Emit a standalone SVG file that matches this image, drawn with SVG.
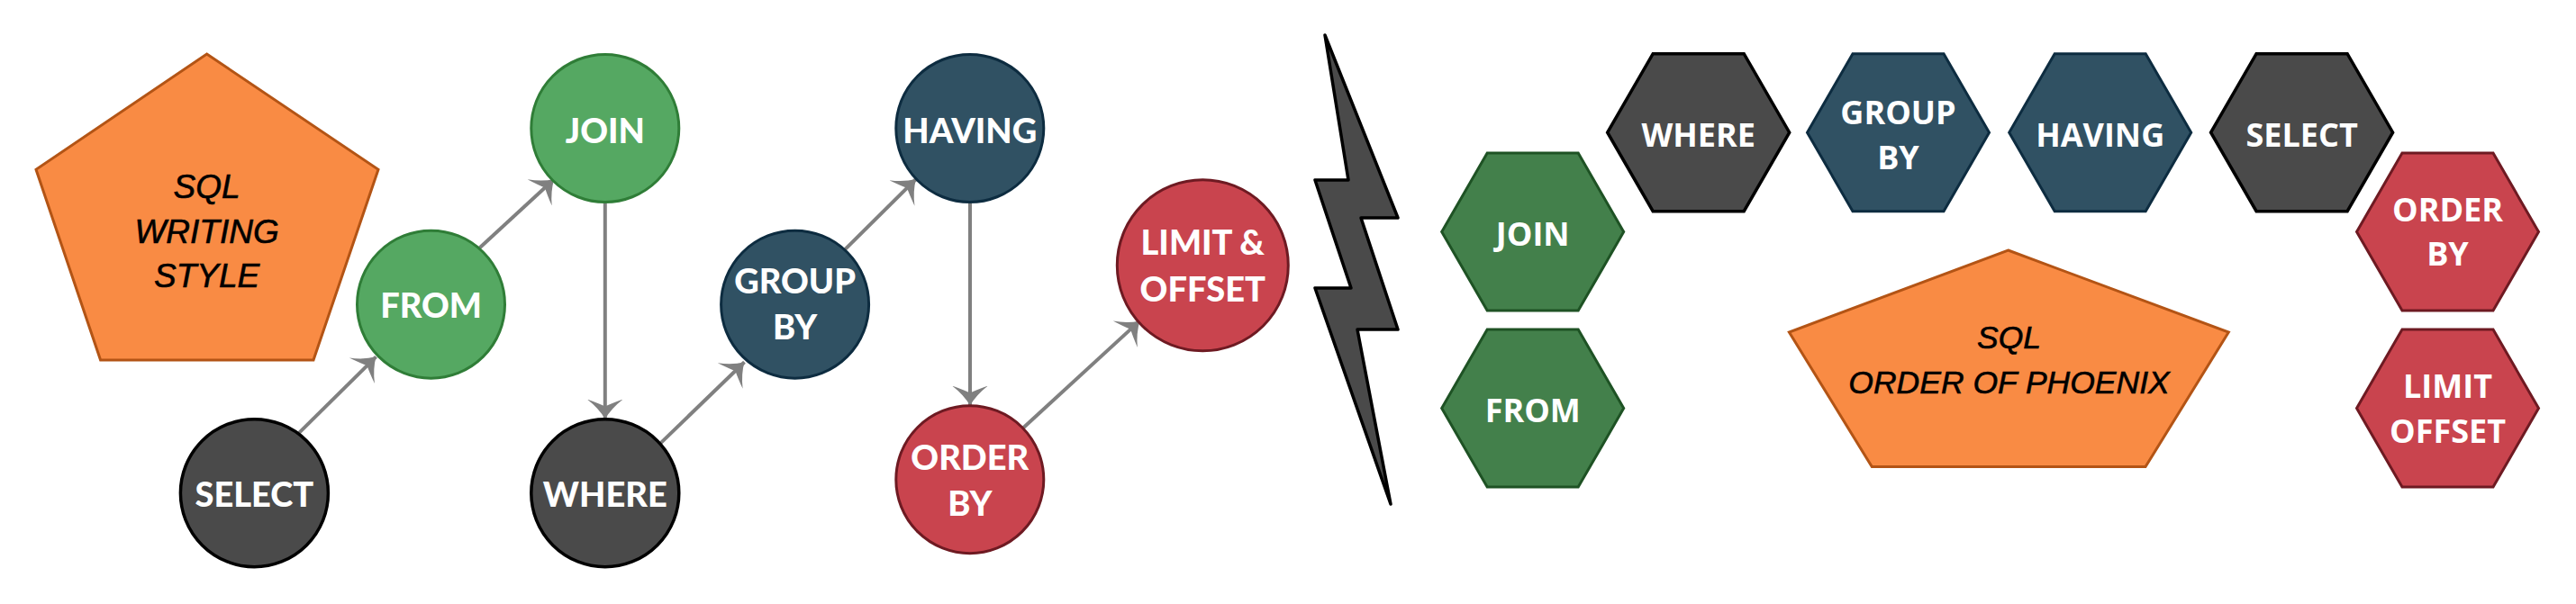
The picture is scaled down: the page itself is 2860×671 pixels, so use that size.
<svg xmlns="http://www.w3.org/2000/svg" width="2860" height="671" viewBox="0 0 2860 671">
<style>
.lt{font-family:Lato,"Liberation Sans",sans-serif;font-weight:900;font-size:38px;fill:#fff;text-anchor:middle}
.rt{font-family:"Open Sans","Noto Sans","Liberation Sans",sans-serif;font-weight:700;font-size:36px;fill:#fff;text-anchor:middle}
.pl{font-family:"Liberation Sans",Arial,sans-serif;font-style:italic;font-size:37px;fill:#000;stroke:#000;stroke-width:0.6;text-anchor:middle}
.pr{font-family:"Liberation Sans",Arial,sans-serif;font-style:italic;font-size:35.5px;fill:#000;stroke:#000;stroke-width:0.6;text-anchor:middle}
.green{fill:#55a862;stroke:#2f7d37;stroke-width:3}
.dark{fill:#4a4a4a;stroke:#000;stroke-width:3.5}
.navy{fill:#305163;stroke:#0d2c40;stroke-width:3}
.red{fill:#c9444e;stroke:#6e1a22;stroke-width:3}
.hgreen{fill:#43804b;stroke:#1e5224;stroke-width:3}
.penta{fill:#f98b44;stroke:#b35415;stroke-width:3}
.edge{stroke:#808080;stroke-width:4;fill:none;marker-end:url(#ah)}
</style>
<defs>
<marker id="ah" viewBox="0 -21 22 42" refX="22" refY="0" markerWidth="22" markerHeight="42" markerUnits="userSpaceOnUse" orient="auto">
<path d="M22,0 Q10,-7 0,-20 Q5,-6 8,0 Q5,6 0,20 Q10,7 22,0 Z" fill="#808080"/>
</marker>
</defs>
<rect width="2860" height="671" fill="#fff"/>

<g id="writing-style">
<polygon class="penta" points="229.6,60 420,188.3 348,400 111.6,400 40,188.3"/>
<text class="pl" x="229.6" y="220">SQL</text>
<text class="pl" x="229.6" y="269.6">WRITING</text>
<text class="pl" x="229.6" y="319">STYLE</text>
</g>

<g id="connectors">
<line class="edge" x1="331.5" y1="481.4" x2="417.5" y2="396.3"/>
<line class="edge" x1="531.8" y1="276" x2="615.3" y2="199"/>
<line class="edge" x1="671.8" y1="225.5" x2="671.8" y2="465.5"/>
<line class="edge" x1="729.2" y1="496.4" x2="826.5" y2="402.2"/>
<line class="edge" x1="934.9" y1="280.3" x2="1017" y2="199"/>
<line class="edge" x1="1077" y1="225.5" x2="1077" y2="450.5"/>
<line class="edge" x1="1135.6" y1="475.8" x2="1265.5" y2="356.4"/>
</g>

<g id="c-select"><circle class="dark" cx="282.4" cy="547.7" r="82"/><text class="lt" x="282.4" y="562.7">SELECT</text></g>
<g id="c-from"><circle class="green" cx="478.5" cy="338.2" r="82"/><text class="lt" x="478.5" y="353">FROM</text></g>
<g id="c-join"><circle class="green" cx="671.8" cy="142.5" r="82"/><text class="lt" x="671.8" y="158.5">JOIN</text></g>
<g id="c-where"><circle class="dark" cx="671.8" cy="547.7" r="82"/><text class="lt" x="671.8" y="562.7">WHERE</text></g>
<g id="c-groupby"><circle class="navy" cx="882.6" cy="338.2" r="82"/><text class="lt" x="882.6" y="326">GROUP</text><text class="lt" x="882.6" y="377.4">BY</text></g>
<g id="c-having"><circle class="navy" cx="1076.8" cy="142.5" r="82"/><text class="lt" x="1076.8" y="158.5">HAVING</text></g>
<g id="c-orderby"><circle class="red" cx="1076.8" cy="532.7" r="82"/><text class="lt" x="1076.8" y="522">ORDER</text><text class="lt" x="1076.8" y="573.4">BY</text></g>
<g id="c-limit"><circle class="red" cx="1335.3" cy="294.8" r="95"/><text class="lt" x="1335.3" y="283.3">LIMIT &amp;</text><text class="lt" x="1335.3" y="334.6">OFFSET</text></g>

<g id="bolt">
<polygon class="dark" stroke-linejoin="round" points="1471,39 1552,242 1511,242 1552,366 1507,366 1544,560 1460,320 1500,320 1460,200 1497,200"/>
</g>

<g id="h-join"><polygon class="hgreen" points="1600.7,257.6 1651.2,170.1 1752.2,170.1 1802.7,257.6 1752.2,345.1 1651.2,345.1"/><text class="rt" x="1701.7" y="272.6">JOIN</text></g>
<g id="h-from"><polygon class="hgreen" points="1600.7,453.6 1651.2,366.1 1752.2,366.1 1802.7,453.6 1752.2,541.1 1651.2,541.1"/><text class="rt" x="1701.7" y="468.6">FROM</text></g>
<g id="h-where"><polygon class="dark" points="1784.7,147.2 1835.2,59.7 1936.2,59.7 1986.7,147.2 1936.2,234.7 1835.2,234.7"/><text class="rt" x="1885.7" y="162.6">WHERE</text></g>
<g id="h-groupby"><polygon class="navy" points="2006.5,147.2 2057,59.7 2158,59.7 2208.5,147.2 2158,234.7 2057,234.7"/><text class="rt" x="2107.5" y="137.8">GROUP</text><text class="rt" x="2107.5" y="188.3">BY</text></g>
<g id="h-having"><polygon class="navy" points="2230.7,147.2 2281.2,59.7 2382.2,59.7 2432.7,147.2 2382.2,234.7 2281.2,234.7"/><text class="rt" x="2331.7" y="162.6">HAVING</text></g>
<g id="h-select"><polygon class="dark" points="2454.6,147.2 2505.1,59.7 2606.1,59.7 2656.6,147.2 2606.1,234.7 2505.1,234.7"/><text class="rt" x="2555.6" y="162.6">SELECT</text></g>
<g id="h-orderby"><polygon class="red" points="2616.5,257.6 2667,170.1 2768,170.1 2818.5,257.6 2768,345.1 2667,345.1"/><text class="rt" x="2717.5" y="246">ORDER</text><text class="rt" x="2717.5" y="295.3">BY</text></g>
<g id="h-limit"><polygon class="red" points="2616.5,453.6 2667,366.1 2768,366.1 2818.5,453.6 2768,541.1 2667,541.1"/><text class="rt" x="2717.5" y="441.6">LIMIT</text><text class="rt" x="2717.5" y="492">OFFSET</text></g>

<g id="phoenix">
<polygon class="penta" points="2229.5,278 2474.3,369 2382,518.6 2078.3,518.6 1986.4,369"/>
<text class="pr" x="2230.5" y="387.3">SQL</text>
<text class="pr" x="2230.5" y="436.5">ORDER OF PHOENIX</text>
</g>
</svg>
